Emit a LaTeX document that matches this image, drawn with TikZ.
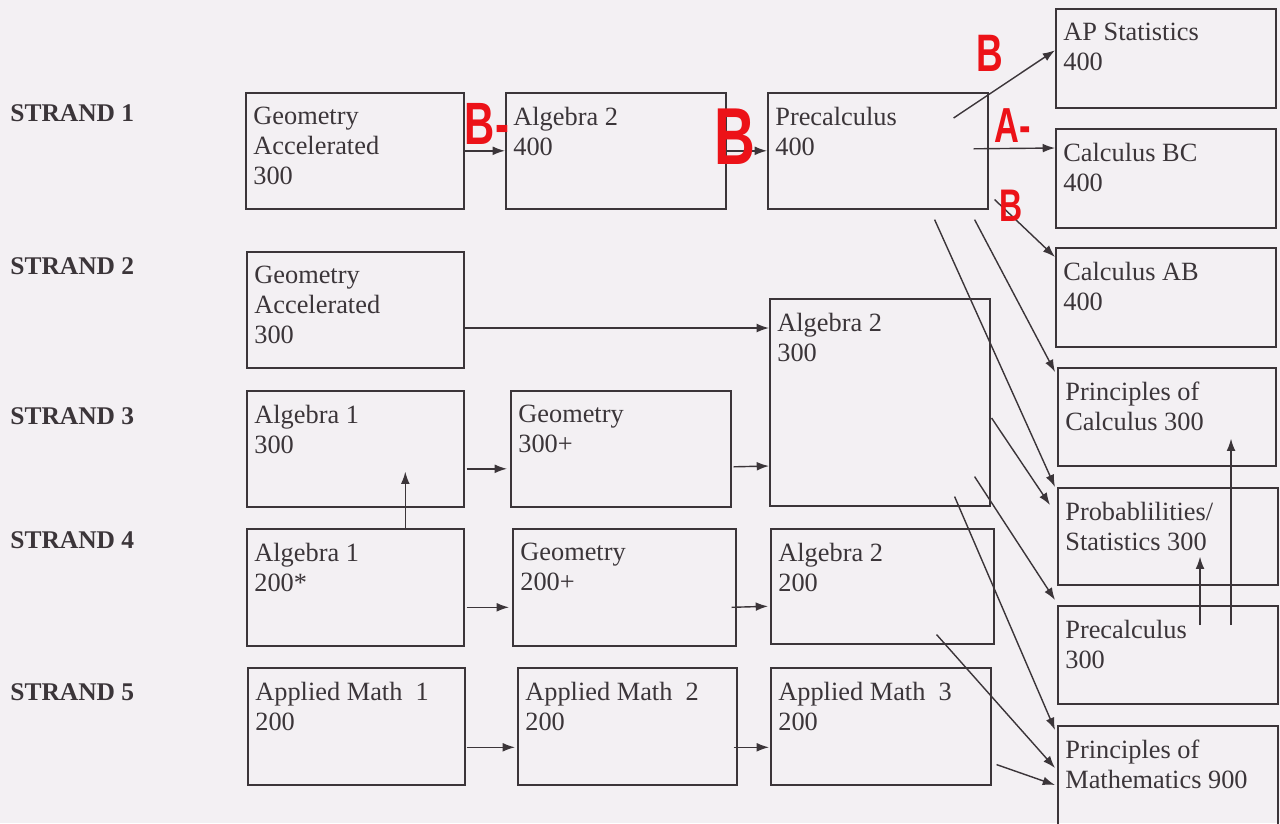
\documentclass[tikz,border=0pt]{standalone}
\usepackage{fontspec}
\setmainfont{Liberation Serif}
\setsansfont{Liberation Sans}
\usepackage{graphicx}
\usepackage{xcolor}
\usepackage{tikz}
\usetikzlibrary{positioning, arrows.meta, calc}

\definecolor{ink}{HTML}{3B3539}
\definecolor{paper}{HTML}{F3F0F3}
\definecolor{pen}{HTML}{EC1218}

\tikzset{
  crs/.style={draw=ink, line width=0.9pt, anchor=north west, inner sep=0pt},
  txt/.style={anchor=north west, inner sep=0pt, align=left, text=ink,
    font=\fontsize{15}{17}\selectfont, xshift=0.16cm, yshift=-0.3cm},
  strand/.style={anchor=west, inner sep=0pt, text=ink, font=\bfseries\fontsize{14.5}{16}\selectfont},
  grade/.style={text=pen, font=\sffamily\bfseries},
  flow/.style={draw=ink, line width=0.8pt, -{Latex[length=7pt,width=5pt]}}
}
% name, x, y, width, height, text (pixels)
\newcommand{\course}[6]{%
  \node[crs, minimum width=#4*0.02cm, minimum height=#5*0.02cm,
    label={[txt]north west:{#6}}] (#1) at (#2,#3) {};}

\begin{document}
\begin{tikzpicture}[x=0.02cm, y=-0.02cm]
   \fill[paper] (0,0) rectangle (1280,823);
   \useasboundingbox (0,0) rectangle (1280,823);

   % strands
   \node[strand] (s_1) at (10,113) {STRAND 1};
   \node[strand] (s_2) at (10,266) {STRAND 2};
   \node[strand] (s_3) at (10,416) {STRAND 3};
   \node[strand] (s_4) at (10,540) {STRAND 4};
   \node[strand] (s_5) at (10,692) {STRAND 5};

   % courses
   \course{ga300a}{245}{92}{218}{116}{Geometry\\Accelerated\\300}
   \course{a2_400}{505}{92}{220}{116}{Algebra 2\\400}
   \course{pc400}{767}{92}{220}{116}{Precalculus\\400}
   \course{ga300b}{246}{251}{217}{116}{Geometry\\Accelerated\\300}
   \course{a2_300}{769}{298}{220}{207}{Algebra 2\\300}
   \course{a1_300}{246}{390}{217}{116}{Algebra 1\\300}
   \course{g300}{510}{390}{220}{116}{Geometry\\300+}
   \course{a1_200}{246}{528}{217}{117}{Algebra 1\\200*}
   \course{g200}{512}{528}{223}{117}{Geometry\\200+}
   \course{a2_200}{770}{528}{223}{115}{Algebra 2\\200}
   \course{am_1}{247}{667}{217}{117}{Applied Math\ \ 1\\200}
   \course{am_2}{517}{667}{219}{117}{Applied Math\ \ 2\\200}
   \course{am_3}{770}{667}{220}{117}{Applied Math\ \ 3\\200}

   \course{aps400}{1055}{8}{220}{99}{AP Statistics\\400}
   \course{cbc400}{1055}{128}{220}{99}{Calculus BC\\400}
   \course{cab400}{1055}{247}{220}{99}{Calculus AB\\400}
   \course{poc300}{1057}{367}{218}{98}{Principles of\\Calculus 300}
   \course{ps300}{1057}{487}{220}{97}{Probablilities/\\Statistics 300}
   \course{pc300}{1057}{605}{220}{98}{Precalculus\\300}
   \course{pom900}{1057}{725}{220}{110}{Principles of\\Mathematics 900}

   % strand 1
   \draw[flow] (ga300a.east) -- (a2_400.west);
   \draw[flow] (a2_400.east) -- (pc400.west);
   \draw[flow] ($(pc400.north east)+(-35,26)$) -- ($(aps400.west)+(0,-8)$);
   \draw[flow] ($(pc400.east)+(-15,-2)$) -- ($(cbc400.north west)+(0,20)$);
   \draw[flow] ($(pc400.south east)+(6,-10)$) -- ($(cab400.north west)+(0,10)$);
   \draw[flow] ($(pc400.south east)+(-14,10)$) -- ($(poc300.north west)+(-2,5)$);
   \draw[flow] ($(pc400.south east)+(-54,10)$) -- ($(ps300.north west)+(-2,0)$);

   % strands 2 to 5
   \draw[flow] (ga300b.east |- 0,328) -- (a2_300.west |- 0,328);
   \draw[flow] ($(a1_300.east)+(2,20)$) -- ($(g300.west)+(-3,20)$);
   \draw[flow] ($(g300.east)+(2,18)$) -- (a2_300.west |- 0,466);
   \draw[flow] ($(a1_200.north)+(50,0)$) -- ($(a1_300.south)+(50,-36)$);
   \draw[flow] ($(a1_200.east)+(2,20)$) -- ($(g200.west)+(-3,20)$);
   \draw[flow] ($(g200.east)+(-5,20)$) -- ($(a2_200.west)+(-2,20)$);
   \draw[flow] ($(am_1.east)+(1,21)$) -- ($(am_2.west)+(-2,21)$);
   \draw[flow] ($(am_2.east)+(-4,21)$) -- ($(am_3.west)+(-1,21)$);

   % into the right column
   \draw[flow] ($(a2_300.north east)+(1,120)$) -- ($(ps300.north west)+(-7,18)$);
   \draw[flow] ($(a2_300.south east)+(-16,-30)$) -- ($(pc300.north west)+(-2,-5)$);
   \draw[flow] ($(a2_300.south east)+(-36,-10)$) -- ($(pom900.north west)+(-2,5)$);
   \draw[flow] ($(a2_200.south east)+(-58,-10)$) -- ($(pom900.north west)+(-2,43)$);
   \draw[flow] ($(am_3.south east)+(5,-21)$) -- ($(pom900.north west)+(-2,60)$);
   \draw[flow] ($(pc300.north west)+(143,20)$) -- ($(ps300.south west)+(143,-29)$);
   \draw[flow] ($(pc300.north west)+(174,20)$) -- ($(poc300.south west)+(174,-28)$);

   % grades in red pen
   \node[grade] (m_1) at (487,124) {\fontsize{34}{34}\selectfont\scalebox{0.7}[1]{B-}};
   \node[grade] (m_2) at (735,137) {\fontsize{46}{46}\selectfont\scalebox{0.7}[1]{B}};
   \node[grade] (m_3) at (990,53) {\fontsize{30}{30}\selectfont\scalebox{0.7}[1]{B}};
   \node[grade] (m_4) at (1013,126) {\fontsize{28}{28}\selectfont\scalebox{0.7}[1]{A-}};
   \node[grade] (m_5) at (1011,206) {\fontsize{26}{26}\selectfont\scalebox{0.7}[1]{B}};
\end{tikzpicture}
\end{document}
